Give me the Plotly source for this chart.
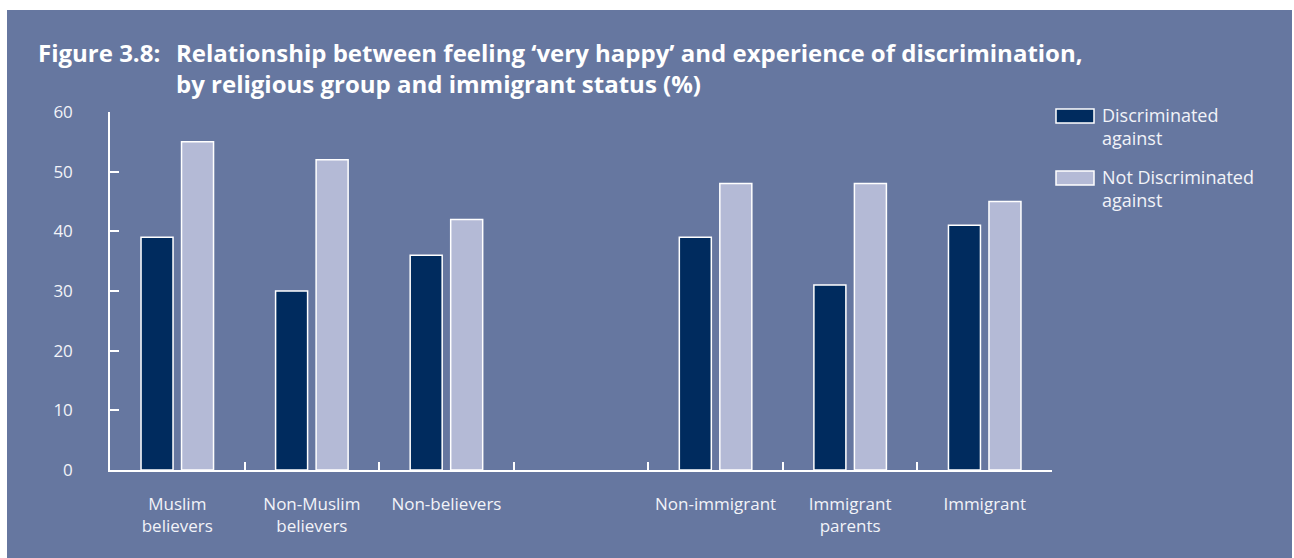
import plotly.graph_objects as go

# Share of respondents feeling 'very happy' (%)
categories = ["Muslim<br>believers", "Non-Muslim<br>believers", "Non-believers", " ",
              "Non-immigrant", "Immigrant<br>parents", "Immigrant"]
discriminated = [39, 30, 36, None, 39, 31, 41]
not_discriminated = [55, 52, 42, None, 48, 48, 45]
series_names = ["Discriminated<br>against", "Not Discriminated<br>against"]
y_ticks = [0, 10, 20, 30, 40, 50, 60]

PANEL = "#6677a0"
DARK = "#002b5e"
LIGHT = "#b4bad6"
TEXT = "#f2f3f8"
FONT = "Open Sans"

fig = go.Figure()
for name, vals, col in [(series_names[0], discriminated, DARK),
                        (series_names[1], not_discriminated, LIGHT)]:
    fig.add_trace(go.Bar(
        x=categories, y=vals, name=name,
        marker=dict(color=col, line=dict(color="#ffffff", width=1.5)),
        showlegend=False,
    ))

W, H = 1294, 558
L, R, T, B = 110, 242, 112, 88
fig.update_layout(
    width=W, height=H,
    paper_bgcolor="#ffffff",
    plot_bgcolor=PANEL,
    barmode="group", bargap=0.398, bargroupgap=0.21,
    margin=dict(l=L, r=R, t=T, b=B),
    font=dict(family=FONT, color=TEXT, size=17),
)
fig.update_xaxes(
    type="category", categoryorder="array", categoryarray=categories,
    range=[-0.5, len(categories) - 0.5],
    tickson="boundaries", ticks="inside", ticklen=8, tickwidth=1.5, tickcolor="#ffffff",
    showline=True, linecolor="#ffffff", linewidth=1.5, showgrid=False, zeroline=False,
    tickfont=dict(size=17, color=TEXT), ticklabelstandoff=18,
)
fig.update_yaxes(
    range=[0, 60], tickvals=y_ticks, ticks="inside", ticklen=9, tickwidth=1.5, tickcolor="#ffffff",
    showline=True, linecolor="#ffffff", linewidth=1.5, showgrid=False, zeroline=False,
    tickfont=dict(size=17, color=TEXT), ticklabelstandoff=32,
)


def px_x(p):
    return (p - L) / (W - L - R)


def px_y(p):
    return (H - B - p) / (H - T - B)


# panel background behind everything
fig.add_shape(type="rect", xref="paper", yref="paper", layer="below",
              x0=px_x(7), x1=px_x(1292), y0=px_y(H), y1=px_y(10),
              fillcolor=PANEL, line_width=0)

# title: figure number, then the two-line caption indented beside it
title_font = dict(size=24, color="#ffffff", family=FONT)
fig.add_annotation(text="<b>Figure 3.8:</b>", x=px_x(36), y=px_y(34), xref="paper", yref="paper",
                   xanchor="left", yanchor="top", showarrow=False, font=title_font)
fig.add_annotation(text="<b>Relationship between feeling ‘very happy’ and experience of discrimination,<br>"
                        "by religious group and immigrant status (%)</b>",
                   x=px_x(174), y=px_y(34), xref="paper", yref="paper", align="left",
                   xanchor="left", yanchor="top", showarrow=False, font=title_font)

# legend
for i, (name, col) in enumerate([(series_names[0], DARK), (series_names[1], LIGHT)]):
    top = 109 + 62 * i
    fig.add_shape(type="rect", xref="paper", yref="paper",
                  x0=px_x(1056), x1=px_x(1094), y0=px_y(top + 14), y1=px_y(top),
                  fillcolor=col, line=dict(color="#ffffff", width=1.5))
    fig.add_annotation(text=name, x=px_x(1100), y=px_y(top - 8), xref="paper", yref="paper",
                       xanchor="left", yanchor="top", align="left", showarrow=False,
                       font=dict(size=18, color=TEXT, family=FONT))

fig.write_html("out.html")
